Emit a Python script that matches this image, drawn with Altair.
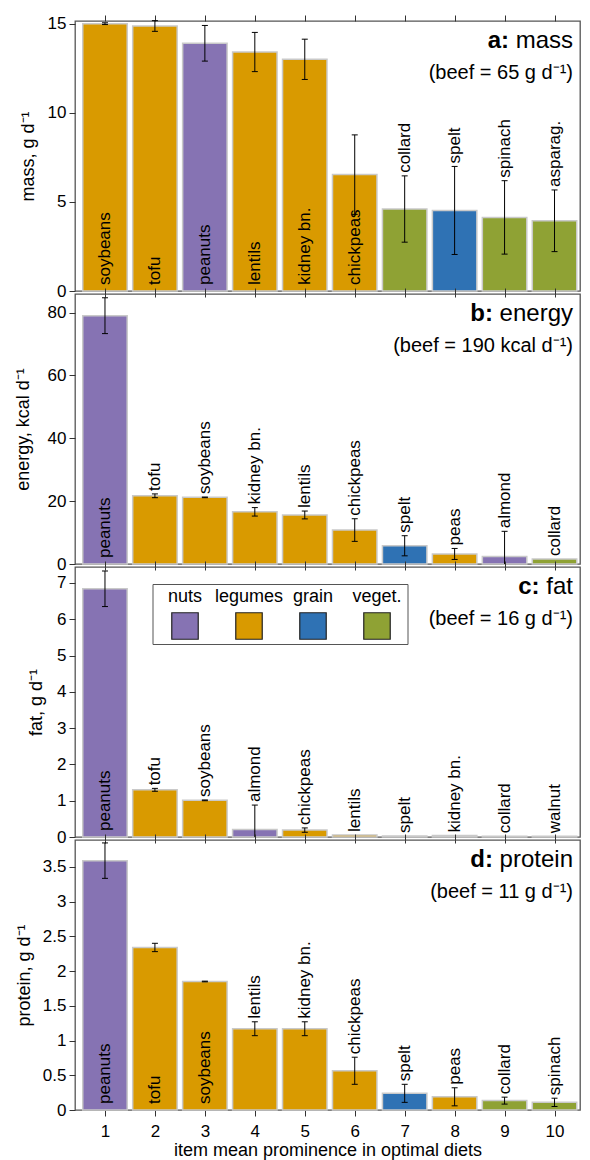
import altair as alt
import pandas as pd
import numpy as np

# ---------------- data ----------------
categories = ["nuts", "legumes", "grain", "veget."]
category_colors = ["#8673B3", "#D99A00", "#2F72B4", "#8FA234"]
item_category = {
    "peanuts": "nuts", "almond": "nuts", "walnut": "nuts",
    "soybeans": "legumes", "tofu": "legumes", "lentils": "legumes",
    "kidney bn.": "legumes", "chickpeas": "legumes", "peas": "legumes",
    "spelt": "grain",
    "collard": "veget.", "spinach": "veget.", "asparag.": "veget.",
}
ranks = [1, 2, 3, 4, 5, 6, 7, 8, 9, 10]

mass_items = ["soybeans", "tofu", "peanuts", "lentils", "kidney bn.",
              "chickpeas", "collard", "spelt", "spinach", "asparag."]
mass_values = [15.0, 14.87, 13.9, 13.41, 13.0, 6.53, 4.6, 4.52, 4.13, 3.94]
mass_errors = [0.05, 0.3, 1.0, 1.1, 1.13, 2.23, 1.86, 2.47, 2.06, 1.73]
mass_inside = [True, True, True, True, True, True, False, False, False, False]
mass_ticks = [0, 5, 10, 15]

energy_items = ["peanuts", "tofu", "soybeans", "kidney bn.", "lentils",
                "chickpeas", "spelt", "peas", "almond", "collard"]
energy_values = [79.0, 21.7, 21.2, 16.6, 15.6, 10.8, 5.8, 3.2, 2.4, 1.6]
energy_errors = [5.7, 0.6, 0.1, 1.35, 1.25, 3.6, 3.2, 1.75, 8.0, 0.0]
energy_inside = [True, False, False, False, False, False, False, False, False, False]
energy_ticks = [0, 20, 40, 60, 80]

fat_items = ["peanuts", "tofu", "soybeans", "almond", "chickpeas",
             "lentils", "spelt", "kidney bn.", "collard", "walnut"]
fat_values = [6.84, 1.30, 1.01, 0.21, 0.19, 0.055, 0.03, 0.04, 0.02, 0.02]
fat_errors = [0.49, 0.04, 0.01, 0.67, 0.06, 0.0, 0.0, 0.0, 0.0, 0.0]
fat_inside = [True, False, False, False, False, False, False, False, False, False]
fat_ticks = [0, 1, 2, 3, 4, 5, 6, 7]

protein_items = ["peanuts", "tofu", "soybeans", "lentils", "kidney bn.",
                 "chickpeas", "spelt", "peas", "collard", "spinach"]
protein_values = [3.59, 2.34, 1.85, 1.17, 1.17, 0.565, 0.24, 0.19, 0.135, 0.11]
protein_errors = [0.255, 0.06, 0.005, 0.1, 0.1, 0.195, 0.13, 0.13, 0.05, 0.06]
protein_inside = [True, True, True, False, False, False, False, False, False, False]
protein_ticks = [0, 0.5, 1, 1.5, 2, 2.5, 3, 3.5]

# ---------------- styling ----------------
FONT = "Liberation Sans"
W, H = 505, 270
X_DOMAIN = [0.4, 10.51]
BAR_HALF = 0.445


def xs():
    return alt.Scale(domain=X_DOMAIN, nice=False, zero=False)


def panel(letter, name, name_width, subtitle, ytitle, title_x, items, values,
          errors, inside, ymax, yticks, bottom=False, legend=False):
    df = pd.DataFrame({"rank": ranks, "item": items, "value": values,
                       "err": errors, "inside": inside})
    df["cat"] = df["item"].map(item_category)
    df["lo"] = (df["value"] - df["err"]).clip(lower=0)
    df["hi"] = df["value"] + df["err"]
    df["left"] = df["rank"] - BAR_HALF
    df["right"] = df["rank"] + BAR_HALF
    df["zero"] = 0.0
    df["label_at"] = np.where(df["inside"], 0.0, df["hi"])

    ys = alt.Scale(domain=[0, ymax], nice=False, zero=True)
    color = alt.Color("cat:N", scale=alt.Scale(domain=categories, range=category_colors),
                      legend=None)
    base = alt.Chart(df)

    bottom_axis = alt.Axis(values=ranks, orient="bottom", tickSize=6, labels=bottom,
                           domain=False, grid=False, labelFontSize=17, labelPadding=7,
                           titleFontSize=18, titlePadding=2, format="d")
    yaxis = alt.Axis(values=yticks, format=".2~f", domain=False, grid=False, tickSize=6,
                     labelFontSize=17, labelPadding=3, titleFontSize=18,
                     titleX=title_x, titleBaseline="middle", orient="left")

    def Y(field):
        # identical axis spec in every layer so the shared y axis is kept
        return alt.Y(field, scale=ys, axis=yaxis, title=ytitle)

    bars = base.mark_bar(stroke="#c9c9c9", strokeWidth=1.5).encode(
        x=alt.X("left:Q", scale=xs(), axis=bottom_axis,
                title="item mean prominence in optimal diets" if bottom else None),
        x2="right:Q",
        y=Y("value:Q"),
        y2="zero:Q",
        color=color,
    )
    # invisible zero-length rules that only carry the top axis ticks
    top_axis = base.mark_rule(opacity=0).encode(
        x=alt.X("rank:Q", scale=xs(), title=None,
                axis=alt.Axis(orient="top", values=ranks, labels=False, tickSize=6,
                              domain=False, grid=False)),
        y=Y("zero:Q"),
        y2="zero:Q",
    )
    err_rule = base.transform_filter("datum.err > 0").mark_rule(
        color="black", strokeWidth=1).encode(
        x=alt.X("rank:Q", scale=xs(), axis=None),
        y=Y("lo:Q"),
        y2="hi:Q",
    )
    cap_hi = base.transform_filter("datum.err > 0").mark_tick(
        orient="horizontal", size=6, thickness=1, color="black", opacity=1).encode(
        x=alt.X("rank:Q", scale=xs(), axis=None),
        y=Y("hi:Q"),
    )
    cap_lo = base.transform_filter("datum.err > 0 && datum.lo > 0").mark_tick(
        orient="horizontal", size=6, thickness=1, color="black", opacity=1).encode(
        x=alt.X("rank:Q", scale=xs(), axis=None),
        y=Y("lo:Q"),
    )
    lab_in = base.transform_filter("datum.inside").mark_text(
        angle=270, align="left", baseline="middle", dx=6, fontSize=17,
        font=FONT, color="black").encode(
        x=alt.X("rank:Q", scale=xs(), axis=None),
        y=Y("label_at:Q"),
        text="item:N",
    )
    lab_out = base.transform_filter("!datum.inside").mark_text(
        angle=270, align="left", baseline="middle", dx=3, fontSize=17,
        font=FONT, color="black").encode(
        x=alt.X("rank:Q", scale=xs(), axis=None),
        y=Y("label_at:Q"),
        text="item:N",
    )
    t_name = alt.Chart(pd.DataFrame({"t": [name]})).mark_text(
        align="right", baseline="alphabetic", fontSize=24, font=FONT,
        color="black").encode(x=alt.value(W - 7), y=alt.value(27), text="t:N")
    t_letter = alt.Chart(pd.DataFrame({"t": [letter + ":"]})).mark_text(
        align="right", baseline="alphabetic", fontSize=24, font=FONT,
        fontWeight="bold", color="black").encode(
        x=alt.value(W - 7 - name_width - 6.7), y=alt.value(27), text="t:N")
    t_sub = alt.Chart(pd.DataFrame({"t": [subtitle]})).mark_text(
        align="right", baseline="alphabetic", fontSize=20, font=FONT,
        color="black").encode(x=alt.value(W - 7), y=alt.value(58), text="t:N")

    layers = [bars, top_axis, err_rule, cap_hi, cap_lo, lab_in, lab_out,
              t_name, t_letter, t_sub]

    if legend:
        ldf = pd.DataFrame({"cat": categories})
        lx = alt.X("cat:N", sort=categories, axis=None,
                   scale=alt.Scale(type="point", domain=categories, range=[110, 302],
                                   padding=0))
        box = alt.Chart(pd.DataFrame({"b": [1]})).mark_rect(
            fill="white", stroke="#555", strokeWidth=1).encode(
            x=alt.value(78), x2=alt.value(333), y=alt.value(17.5), y2=alt.value(77.5))
        sw = alt.Chart(ldf).mark_point(shape="square", filled=True, size=700,
                                       stroke="#222", strokeWidth=1.2, opacity=1).encode(
            x=lx, y=alt.value(59), color=color)
        lt = alt.Chart(ldf).mark_text(fontSize=18, font=FONT, color="black",
                                      baseline="middle", align="center").encode(
            x=lx, y=alt.value(29.5), text="cat:N")
        layers += [box, sw, lt]

    ch = alt.layer(*layers).properties(width=W, height=H)
    if legend:
        ch = ch.resolve_scale(x="independent")
    return ch


pa = panel("a", "mass", 57.3, "(beef = 65 g d⁻¹)", "mass, g d⁻¹", -47,
           mass_items, mass_values, mass_errors, mass_inside, 15.15, mass_ticks)
pb = panel("b", "energy", 73.4, "(beef = 190 kcal d⁻¹)", "energy, kcal d⁻¹", -52,
           energy_items, energy_values, energy_errors, energy_inside, 85.9, energy_ticks)
pc = panel("c", "fat", 26.7, "(beef = 16 g d⁻¹)", "fat, g d⁻¹", -39,
           fat_items, fat_values, fat_errors, fat_inside, 7.44, fat_ticks, legend=True)
pd_ = panel("d", "protein", 73.4, "(beef = 11 g d⁻¹)", "protein, g d⁻¹", -51,
            protein_items, protein_values, protein_errors, protein_inside, 3.887,
            protein_ticks, bottom=True)

chart = alt.vconcat(pa, pb, pc, pd_, spacing=3, bounds="flush").properties(
    padding={"left": 5, "top": 5, "right": 0, "bottom": 0}
).configure(font=FONT).configure_view(
    stroke="#555", strokeWidth=1.3
).configure_axis(
    labelFont=FONT, titleFont=FONT, labelColor="black", titleColor="black",
    tickColor="#333", titleFontWeight="normal"
)

chart.save("out.html", embed_options={"renderer": "svg", "actions": False})
